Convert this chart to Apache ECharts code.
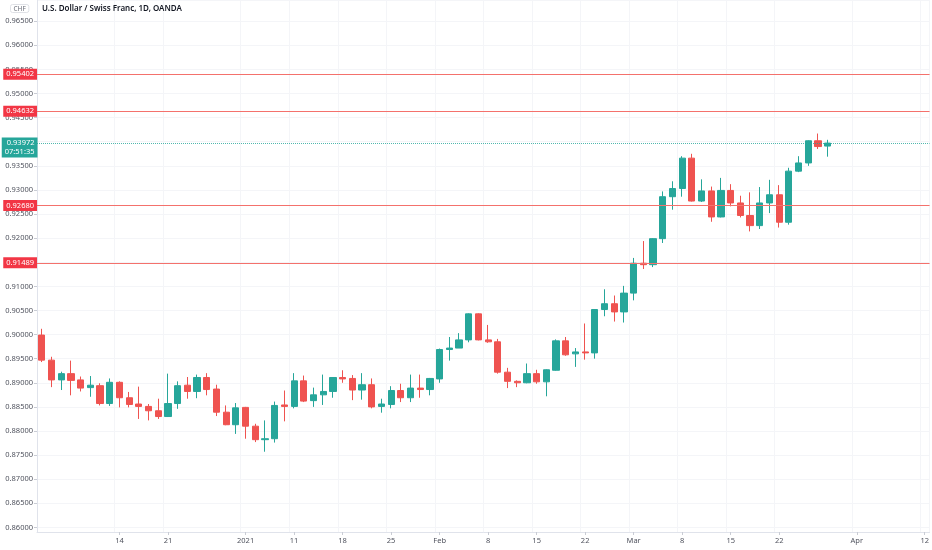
<!DOCTYPE html>
<html><head><meta charset="utf-8">
<script src="https://cdn.jsdelivr.net/npm/echarts@6/dist/echarts.min.js"></script>
<style>html,body{margin:0;padding:0;background:#fff}#c{width:932px;height:550px}</style>
</head><body><div id="c"></div>
<script>
const dates = [
'2020-12-02','2020-12-03','2020-12-04','2020-12-07','2020-12-08','2020-12-09','2020-12-10','2020-12-11','2020-12-14','2020-12-15',
'2020-12-16','2020-12-17','2020-12-18','2020-12-21','2020-12-22','2020-12-23','2020-12-24','2020-12-28','2020-12-29','2020-12-30',
'2020-12-31','2021-01-04','2021-01-05','2021-01-06','2021-01-07','2021-01-08','2021-01-11','2021-01-12','2021-01-13','2021-01-14',
'2021-01-15','2021-01-18','2021-01-19','2021-01-20','2021-01-21','2021-01-22','2021-01-25','2021-01-26','2021-01-27','2021-01-28',
'2021-01-29','2021-02-01','2021-02-02','2021-02-03','2021-02-04','2021-02-05','2021-02-08','2021-02-09','2021-02-10','2021-02-11',
'2021-02-12','2021-02-15','2021-02-16','2021-02-17','2021-02-18','2021-02-19','2021-02-22','2021-02-23','2021-02-24','2021-02-25',
'2021-02-26','2021-03-01','2021-03-02','2021-03-03','2021-03-04','2021-03-05','2021-03-08','2021-03-09','2021-03-10','2021-03-11',
'2021-03-12','2021-03-15','2021-03-16','2021-03-17','2021-03-18','2021-03-19','2021-03-22','2021-03-23','2021-03-24','2021-03-25',
'2021-03-26','2021-03-29','2021-03-30','2021-03-31','2021-04-01','2021-04-02','2021-04-05','2021-04-06','2021-04-07','2021-04-08',
'2021-04-09','2021-04-12'];

const opens = [
0.8999,0.8947,0.8906,0.8919,0.8906,0.8890,0.8894,0.8857,0.8901,0.8869,
0.8856,0.8851,0.8842,0.8830,0.8857,0.8895,0.8882,0.8911,0.8887,0.8839,
0.8813,0.8849,0.8810,0.8782,0.8784,0.8854,0.8851,0.8904,0.8863,0.8875,
0.8882,0.8911,0.8909,0.8885,0.8896,0.8851,0.8855,0.8884,0.8869,0.8889,
0.8886,0.8908,0.8969,0.8972,0.8989,0.9043,0.8989,0.8985,0.8922,0.8903,
0.8900,0.8919,0.8902,0.8926,0.8987,0.8960,0.8964,0.8962,0.9052,0.9064,
0.9047,0.9086,0.9148,0.9145,0.9199,0.9286,0.9303,0.9366,0.9277,0.9298,
0.9244,0.9299,0.9273,0.9247,0.9226,0.9273,0.9290,0.9233,0.9339,0.9356,
0.9402,0.9391];
const closes = [
0.8947,0.8906,0.8919,0.8905,0.8889,0.8895,0.8857,0.8901,0.8869,0.8855,
0.8851,0.8842,0.8830,0.8857,0.8894,0.8882,0.8911,0.8886,0.8839,0.8813,
0.8848,0.8810,0.8782,0.8784,0.8853,0.8851,0.8904,0.8862,0.8875,0.8882,
0.8911,0.8908,0.8885,0.8896,0.8850,0.8856,0.8884,0.8869,0.8889,0.8886,
0.8909,0.8969,0.8972,0.8989,0.9043,0.8989,0.8985,0.8922,0.8903,0.8900,
0.8919,0.8902,0.8927,0.8987,0.8958,0.8964,0.8962,0.9052,0.9064,0.9047,
0.9086,0.9148,0.9145,0.9199,0.9286,0.9303,0.9366,0.9277,0.9298,0.9244,
0.9299,0.9273,0.9247,0.9226,0.9273,0.9290,0.9233,0.9339,0.9356,0.9402,
0.9390,0.93972];
const lows = [
0.8943,0.8891,0.8885,0.8874,0.8882,0.8871,0.8853,0.8852,0.8849,0.8849,
0.8825,0.8822,0.8825,0.8829,0.8846,0.8867,0.8868,0.8874,0.8831,0.8812,
0.8794,0.8784,0.8777,0.8757,0.8776,0.8820,0.8847,0.8860,0.8850,0.8854,
0.8869,0.8900,0.8864,0.8865,0.8847,0.8838,0.8847,0.8860,0.8860,0.8869,
0.8874,0.8900,0.8946,0.8972,0.8984,0.8988,0.8983,0.8919,0.8889,0.8891,
0.8899,0.8898,0.8872,0.8925,0.8956,0.8933,0.8948,0.8950,0.9038,0.9027,
0.9025,0.9071,0.9136,0.9140,0.9190,0.9259,0.9286,0.9276,0.9275,0.9234,
0.9243,0.9266,0.9243,0.9214,0.9219,0.9252,0.9222,0.9228,0.9337,0.9350,
0.9385,0.9369];
const highs = [
0.9012,0.8954,0.8923,0.8946,0.8913,0.8914,0.8899,0.8909,0.8903,0.8881,
0.8892,0.8856,0.8867,0.8919,0.8903,0.8912,0.8917,0.8920,0.8896,0.8853,
0.8858,0.8850,0.8815,0.8822,0.8861,0.8884,0.8920,0.8915,0.8890,0.8917,
0.8912,0.8926,0.8916,0.8920,0.8909,0.8867,0.8893,0.8898,0.8917,0.8917,
0.8910,0.8971,0.8995,0.9003,0.9044,0.9044,0.9020,0.8991,0.8931,0.8905,
0.8940,0.8927,0.8928,0.8990,0.8995,0.8972,0.9023,0.9053,0.9094,0.9081,
0.9101,0.9159,0.9194,0.9200,0.9297,0.9318,0.9370,0.9375,0.9322,0.9307,
0.9325,0.9312,0.9288,0.9295,0.9306,0.9321,0.9310,0.9346,0.9370,0.9403,
0.9417,0.9404];

const tickDates = ['2020-12-14','2020-12-21','2021-01-04','2021-01-11','2021-01-18','2021-01-25','2021-02-01','2021-02-08','2021-02-15','2021-02-22','2021-03-01','2021-03-08','2021-03-15','2021-03-22','2021-04-01','2021-04-12'];
const tickLabels = ['14','21','2021','11','18','25','Feb','8','15','22','Mar','8','15','22','Apr','12'];
const levels = [0.95402, 0.94632, 0.92680, 0.91489];
const lastPrice = 0.93972;
const countdown = '07:51:35';
const titleText = 'U.S. Dollar / Swiss Franc, 1D, OANDA';
const currency = 'CHF';
const yMin = 0.85905, yMax = 0.96940;

const UP = '#26a69a', DOWN = '#ef5350';
const FONT = '"Noto Sans", "Open Sans", sans-serif';
const tickMap = {};
tickDates.forEach((d, i) => { tickMap[d] = tickLabels[i]; });
const isTick = (i, v) => tickMap[v] !== undefined;

const candles = opens.map((o, i) => [o, closes[i], lows[i], highs[i]]);

const chart = echarts.init(document.getElementById('c'), null, {renderer: 'canvas'});
const option = {
  animation: false,
  backgroundColor: '#ffffff',
  title: {
    text: titleText, left: 42, top: 5, padding: 0,
    textStyle: {fontSize: 8, fontWeight: 600, color: '#131722', fontFamily: FONT}
  },
  grid: {left: 37, right: 0, top: 0, bottom: 18, containLabel: false},
  xAxis: {
    type: 'category', data: dates, boundaryGap: true,
    axisLine: {show: true, lineStyle: {color: '#e0e3eb', width: 1}},
    axisTick: {show: true, interval: isTick, alignWithLabel: true, length: 3, lineStyle: {color: '#c9ccd4'}},
    axisLabel: {interval: isTick, formatter: v => tickMap[v] || '', margin: 5, fontSize: 7.5, color: '#50535e', fontFamily: FONT},
    splitLine: {show: true, interval: isTick, lineStyle: {color: '#f4f5f8', width: 1}}
  },
  yAxis: {
    type: 'value', position: 'left', scale: true,
    min: yMin, max: yMax, splitNumber: 22, minInterval: 0.005, maxInterval: 0.005,
    axisLine: {show: true, lineStyle: {color: '#e0e3eb', width: 1}},
    axisTick: {show: true, length: 3, lineStyle: {color: '#c9ccd4'}},
    axisLabel: {
      showMinLabel: false, showMaxLabel: false, margin: 4,
      formatter: v => v.toFixed(5), fontSize: 7.5, color: '#50535e', fontFamily: FONT
    },
    splitLine: {show: true, lineStyle: {color: '#f4f5f8', width: 1}}
  },
  series: [{
    type: 'candlestick',
    data: candles,
    barWidth: 6.7,
    itemStyle: {color: UP, color0: DOWN, borderColor: UP, borderColor0: DOWN, borderWidth: 1},
    markLine: {
      silent: true, symbol: 'none', animation: false, precision: 5,
      lineStyle: {color: '#f4716c', width: 1.2, type: 'solid'},
      label: {
        show: true, position: 'start', distance: 0,
        formatter: p => Number(p.value).toFixed(5),
        color: '#ffffff', backgroundColor: '#f23645', padding: [2, 3, 1, 3],
        fontSize: 7.5, fontFamily: FONT
      },
      data: levels.map(v => ({yAxis: v})).concat([{
        yAxis: lastPrice,
        lineStyle: {color: UP, width: 1, type: 'dotted', opacity: 0.8},
        label: {show: false}
      }])
    }
  }]
};
chart.setOption(option);

const yPix = chart.convertToPixel({yAxisIndex: 0}, lastPrice);
chart.setOption({
  graphic: [
    {
      type: 'text', id: 'cur', left: 10, top: 4, z: 100,
      style: {
        text: currency, fill: '#6a6d78', fontSize: 6.5, fontFamily: FONT,
        borderColor: '#dfe1e6', borderWidth: 1, borderRadius: 2, padding: [1, 3, 0, 3]
      }
    },
    {
      type: 'text', id: 'last', x: 37.5, y: yPix - 5.5, z: 100,
      style: {
        text: lastPrice.toFixed(5) + '\n' + countdown,
        align: 'right', verticalAlign: 'top',
        fill: '#ffffff', backgroundColor: UP, padding: [1.5, 3, 1.5, 3],
        fontSize: 7.5, lineHeight: 8.5, fontFamily: FONT
      }
    }
  ]
});
</script>
</body></html>
